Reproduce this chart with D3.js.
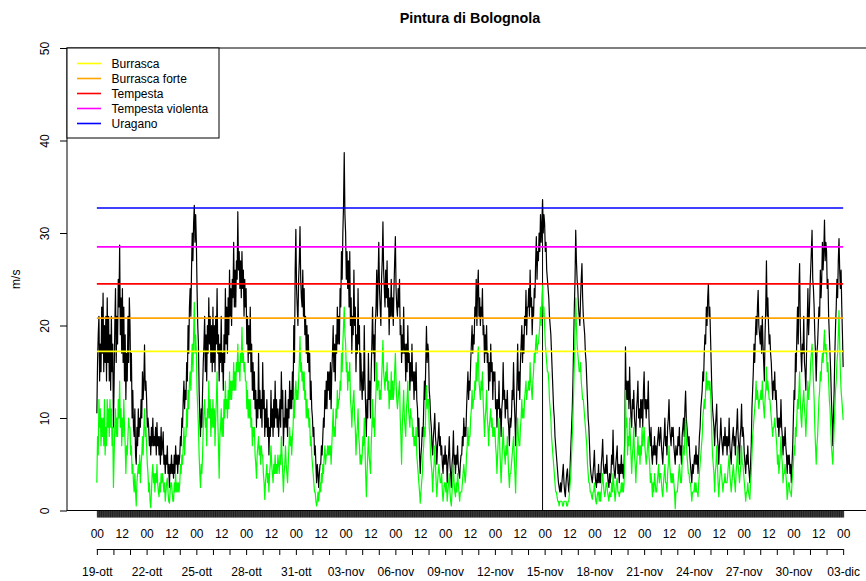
<!DOCTYPE html>
<html>
<head>
<meta charset="utf-8">
<script src="https://cdn.jsdelivr.net/npm/d3@7"></script>
<style>
  body { margin: 0; background: #fff; }
  svg { font-family: "Liberation Sans", Arial, Helvetica, sans-serif; }
</style>
</head>
<body>
<script>
// --- dati (m/s, un valore all'ora) ---
const chartTitle = "Pintura di Bolognola";
const yLabel = "m/s";
const startTime = "2020-10-19 00:00";
const stepHours = 1;

// raffica (nero) - una riga per giorno, 19-ott ... 02-dic, piu' il punto finale 03-dic 00
const gust = [
  10.5, 16, 19, 21, 14, 18, 15, 22, 17, 23.5, 15, 20, 16, 21, 14, 23, 16, 21, 14, 19, 13, 21, 15, 18,
  9, 14, 20, 24, 16, 21, 18, 25, 22, 28.7, 19, 23, 17, 24, 16, 22, 14, 19, 12, 17, 14, 21, 16, 23,
  20, 14, 17, 10, 13, 9, 8, 11, 6, 5, 9, 7, 11, 8, 10, 9, 12, 10, 15, 12, 14, 17.9, 13, 14,
  12, 9, 10, 9, 7, 8, 6, 9, 7, 10, 7, 8, 7, 9, 6, 9.5, 7, 8, 6, 8, 5, 9, 6, 7,
  8.5, 5, 6, 4, 6, 5, 7, 4, 5, 2.5, 5, 4, 6, 4, 5, 3.5, 6, 4, 7, 5, 6, 4, 6, 5,
  6, 8, 7, 10, 9, 12, 14, 11, 13, 12, 16, 14, 20, 17, 22, 24, 21, 26, 30, 27, 31, 33, 29, 32,
  29, 24, 20, 18, 13, 10, 8, 11, 9, 13, 16, 18, 21, 15, 19, 14, 20, 17, 23, 18, 21, 16, 20, 15,
  22, 16, 20, 15, 21, 18, 24, 17, 19, 14, 18, 16, 21, 15, 17, 13, 19, 16, 24, 18, 22, 17, 23, 19,
  26, 21, 24, 20, 25, 23, 29, 22, 26, 22, 27, 25, 32.3, 26, 28, 24, 27, 23, 28, 24, 26, 21, 25, 22,
  24, 18, 21, 16, 20, 17, 22, 15, 18, 13, 16, 12, 15, 11, 13, 9, 12, 10, 17, 11, 13, 10, 12, 9,
  16, 11, 13, 8, 11, 9, 12, 8, 10, 6, 9, 8, 13, 9, 11, 8, 12, 9, 14, 10, 12, 9, 11, 8,
  10, 12, 9, 15, 11, 13, 7, 10, 9, 13, 9, 11, 8, 12, 10, 14, 11, 13, 11, 15, 12, 20, 16, 26,
  30.4, 24, 22, 20, 25, 27, 30.7, 25, 23, 22, 26, 21, 24, 19, 21, 17, 20, 16, 19, 15, 17, 12, 14, 11,
  10, 8, 9, 6, 7, 5, 3, 5, 4, 2.5, 4, 5, 5, 7, 6, 8, 10, 9, 13, 11, 14, 11, 15, 13,
  15, 12, 16, 11, 15, 17, 20, 15, 18, 14, 19, 17, 22, 18, 21, 18, 24, 22, 28, 25, 30, 33, 38.7, 32,
  30, 25, 28, 24, 27, 22, 28, 20, 23, 17, 21, 19, 26, 20, 22, 15, 19, 17, 24, 18, 20, 13, 17, 14,
  12, 15, 13, 20, 14, 11, 8, 12, 10, 17, 12, 14, 10, 15, 18, 22, 17, 19, 14, 20, 22, 26, 21, 25,
  29, 24, 22, 20, 25, 27, 31.2, 26, 24, 22, 26, 23, 27, 22, 24, 19, 23, 21, 25, 21, 23, 20, 24, 27,
  29.6, 24, 22, 21, 24, 22, 25, 19, 20, 16, 19, 17, 22, 17, 18, 14, 18, 15, 20, 16, 17, 13, 16, 14,
  18, 14, 15, 12, 15, 13, 16, 12, 11, 8, 10, 6, 4, 6, 7, 9, 8, 11, 14, 12, 16, 19.9, 16, 18,
  17, 13, 12, 10, 9, 7, 6, 8, 9, 10.5, 8, 7, 5, 7, 8, 9.5, 7, 8, 6, 7, 5, 4, 6, 5,
  7, 5, 6, 3, 5, 6, 8, 5, 4, 2.5, 5, 6, 8.6, 5, 6, 4, 6, 5, 7, 5, 4, 3.5, 5, 6,
  6, 8, 7, 10, 8, 9, 8, 11, 13, 15, 12, 14, 13, 16, 18, 20, 17, 19, 18, 22, 21, 25, 20, 24,
  26, 21, 23, 20, 22, 21, 24, 19, 20, 16, 19, 17, 20, 16, 17, 13, 16, 14, 18, 15, 16, 12, 15, 14,
  15, 11, 12, 9, 12, 11, 14, 10, 11, 8, 11, 12, 16, 12, 13, 10, 12, 11, 13, 10, 9, 7, 10, 9,
  10, 13, 12, 16, 12, 10, 7, 11, 14, 18, 13, 15, 12, 16, 18, 20, 16, 19, 17, 21, 20, 23.8, 19, 22,
  22, 24, 21, 26, 22, 23, 19, 22, 21, 24, 23, 27, 29.6, 25, 28, 27, 30, 28, 32, 29, 31, 33.6, 30, 32,
  31, 28, 29, 26, 25, 24, 23, 21, 20, 19, 17, 15, 13, 11, 10, 8, 7, 6, 5, 4, 3, 2.5, 2, 3,
  2, 3, 4, 5, 3, 2, 1.5, 3, 4, 4.5, 3, 2, 3, 5, 7, 9, 11, 14, 18, 22, 25, 30.3, 27, 25,
  24, 22, 21, 20, 23, 25, 26.7, 23, 21, 20, 19, 17, 16, 14, 12, 10, 9, 7, 5, 4, 3.5, 3, 4, 5,
  6.5, 4, 3, 2.5, 4, 3, 5, 3, 4, 3, 5, 6, 7.7, 5, 4, 4, 5, 4, 6, 4, 3, 2.5, 4, 3,
  4, 6, 5, 8.7, 5, 4, 3.5, 5, 6, 7, 4, 5, 3, 5, 4, 6, 4, 5, 3.5, 5, 8, 17.7, 12, 14,
  12, 14, 11, 15.5, 12, 10, 9, 12, 11, 13, 10, 9, 8, 11, 12, 14, 10, 11, 9, 12, 10, 12, 9, 13,
  15, 11, 12, 10, 12, 11, 14, 10, 8, 7, 9, 6, 5, 7, 6, 8, 6, 7, 5, 7, 8, 9, 7, 8,
  9, 7, 6, 5, 7, 8, 10, 7, 8, 6, 9, 10, 12, 9, 8, 7, 9, 8, 9, 7, 6, 5, 7, 6,
  6, 8, 7, 9, 6, 7, 5, 8, 9, 10, 8, 11, 12.9, 10, 9, 8, 7, 8, 6, 5, 4, 3, 5, 4,
  5, 6, 5, 7, 5, 6, 4, 6, 8, 9, 11, 12, 13, 15, 14, 17, 19, 18, 22, 20, 23, 24.5, 21, 22,
  19, 16, 13, 11, 10, 9, 7, 9, 10, 11.5, 8, 7, 5, 7, 8, 10, 8, 7, 6, 8, 7, 9, 7, 8,
  6, 8, 7, 10, 7, 6, 5, 7, 8, 9, 7, 8, 6, 8, 9, 11, 8, 7, 5, 8, 9, 11.5, 8, 9,
  8, 6, 5, 4, 6, 5, 7, 5, 4, 3, 5, 7, 11, 13, 15, 18, 16, 19, 21, 19, 22, 23.8, 20, 19,
  18, 20, 17, 21, 18, 16, 14, 19, 22, 27, 21, 23, 20, 18, 19, 17, 16, 14, 12, 14, 13, 15, 12, 13,
  11, 9, 10, 8, 10, 9, 12, 9, 8, 6, 8, 7, 9, 7, 6, 4, 6, 5, 6, 4, 5, 3, 5, 7,
  10, 13, 12, 17, 15, 19, 22, 18, 24, 26.7, 20, 17, 15, 18, 17, 21, 16, 15, 13, 17, 20, 24, 19, 21,
  24, 26, 28, 30.3, 25, 24, 22, 19, 17, 14, 17, 18, 20, 22, 21, 26, 23, 25, 29, 26, 28, 31.4, 27, 29,
  28, 24, 25, 21, 19, 17, 15, 12, 10, 7, 10, 13, 17, 20, 22, 25, 23, 27, 29.4, 26, 24, 26, 22, 19,
  15.5
];

// velocita' media (verde)
const mean = [
  3, 8, 6, 12, 9, 11, 7, 10, 8, 10, 7, 12, 6, 9, 7, 12, 9, 11, 8, 12, 9, 11, 7, 9,
  2.5, 6, 9, 11, 8, 10, 8, 12, 10, 14, 9, 11, 7, 10, 8, 12, 9, 7, 4, 7, 6, 8, 10, 9,
  9, 6, 7, 4, 5, 3, 2, 4, 2, 0.5, 3, 4, 5, 4, 6, 3, 5, 6, 8, 6, 9, 11, 8, 9,
  7, 5, 4, 2, 3, 1, 0.3, 2, 4, 5, 3, 4, 2, 4, 3, 5, 3, 2, 1.5, 3, 2, 4, 3, 4,
  3, 2, 3, 1, 2, 3, 3.5, 2, 1, 0.8, 2, 3, 3, 2, 1, 1, 3, 2, 4, 2, 3, 2, 3, 2,
  3, 5, 4, 6, 5, 7, 9, 6, 8, 8, 11, 9, 13, 11, 14, 15, 13, 16, 18, 15, 19, 22.5, 17, 19,
  17, 13, 11, 9, 6, 4, 2.5, 5, 4, 6, 9, 11, 12, 9, 10, 7, 11, 10, 14, 10, 12, 8, 11, 9,
  12, 9, 11, 7, 10, 12, 15, 10, 7, 3.5, 8, 9, 11, 8, 10, 8, 12, 10, 14, 11, 12, 10, 13, 11,
  15, 12, 14, 12, 14, 13, 16, 13, 15, 13, 16, 15, 18, 15, 16, 14, 17, 16, 19.8, 16, 17, 15, 16, 14,
  14, 11, 13, 10, 12, 10, 12, 9, 10, 7, 9, 8, 9, 6, 5, 3.5, 6, 7, 8, 6, 7, 5, 7, 6,
  6, 4, 3, 1.2, 3, 4, 5, 3, 4, 2, 4, 5, 7, 5, 4, 3, 5, 4, 6, 4, 5, 4, 6, 5,
  4, 6, 5, 8, 6, 4, 2, 4, 5, 7, 5, 4, 3, 5, 7, 9, 7, 8, 6, 8, 9, 12, 10, 13,
  14, 12, 13, 12, 14, 16, 18.8, 15, 16, 14, 15, 13, 15, 12, 13, 10, 12, 10, 11, 9, 10, 7, 8, 6,
  5, 4, 3, 2, 2, 1, 0.5, 1, 2, 1, 2, 3, 2, 4, 3, 5, 4, 6, 7, 5, 6, 6, 7, 6,
  7, 6, 7, 5, 7, 9, 11, 8, 9, 8, 11, 10, 13, 11, 12, 12, 14, 13, 17, 15, 18, 20, 22, 19,
  18, 15, 16, 13, 15, 14, 16, 12, 11, 9, 11, 12, 13, 10, 9, 6, 8, 9, 11, 8, 7, 5, 6, 5,
  6, 8, 7, 10, 7, 4, 1.5, 4, 6, 8, 6, 5, 4, 7, 9, 12, 9, 10, 8, 11, 13, 16, 13, 14,
  14, 12, 13, 12, 14, 16, 18.4, 15, 14, 13, 15, 14, 16, 13, 14, 11, 13, 12, 15, 12, 14, 12, 13, 15,
  17, 14, 12, 11, 12, 13, 14, 10, 8, 5, 9, 11, 13, 10, 9, 8, 11, 12, 14, 11, 10, 9, 11, 10,
  10, 8, 9, 7, 8, 7, 9, 6, 5, 4, 3, 2, 0.8, 2, 3, 4, 6, 7, 9, 8, 11, 13.5, 11, 12,
  12, 9, 8, 6, 5, 4, 2, 4, 5, 7, 5, 3, 1.5, 3, 4, 5, 4, 3, 3, 4, 2, 1, 2, 3,
  3, 2, 3, 1, 2, 3, 4, 2, 1, 0.5, 2, 3, 5, 3, 2, 1.5, 3, 2, 4, 3, 2, 1, 2, 2,
  2, 3, 4, 5, 4, 3, 4, 6, 7, 9, 7, 8, 8, 10, 11, 13, 11, 12, 12, 14, 13, 16, 14, 16,
  17.7, 14, 13, 12, 14, 13, 15, 12, 10, 8, 10, 11, 13, 10, 9, 7, 9, 10, 11, 9, 10, 8, 9, 8,
  9, 7, 6, 4, 6, 8, 10, 7, 5, 3, 5, 7, 9, 7, 6, 5, 7, 6, 8, 6, 4, 2.5, 4, 4,
  5, 6, 7, 8, 6, 4, 1.9, 5, 8, 10, 8, 7, 7, 9, 10, 12, 10, 11, 10, 12, 13, 14, 12, 13,
  13, 14, 13, 16, 14, 13, 12, 14, 15, 17, 16, 18, 19, 17, 18, 18, 19, 20, 22, 20, 23, 24.3, 21, 22,
  20, 18, 17, 16, 15, 15, 14, 12, 11, 10, 8, 7, 6, 5, 4, 3, 2, 2, 1.5, 1, 1, 0.5, 1, 1,
  1, 1, 0.5, 0.5, 1, 1, 1, 1, 0.5, 0.5, 1, 1, 2, 3, 4, 6, 8, 10, 13, 16, 19, 23, 20, 18,
  17, 16, 15, 15, 16, 14, 13, 12, 12, 11, 10, 9, 8, 7, 5, 4, 3, 3, 2, 2, 1.5, 1.2, 2, 2,
  3, 2, 1, 0.7, 1.5, 2, 2, 1, 2, 1, 2, 3, 4, 3, 2, 1.5, 2, 3, 3, 2, 1.5, 1, 2, 1.5,
  1.5, 3, 2, 4, 3, 2, 1, 2, 3, 3.5, 2, 2, 1.5, 2, 2, 3, 2, 3, 2, 3, 6, 13, 9, 10,
  6, 8, 7, 10, 8, 6, 4, 6, 7, 9, 6, 5, 3, 5, 6, 8, 6, 7, 5, 7, 6, 9, 7, 8,
  9, 7, 6, 5, 6, 7, 8, 6, 5, 3, 4, 3, 1.5, 3, 2, 4, 3, 2, 2, 3, 4, 5, 3, 4,
  4, 3, 2, 1.5, 3, 4, 5, 3, 3, 2, 4, 5, 7, 5, 4, 3, 4, 3, 4, 3, 2, 0.2, 2, 2,
  2, 3, 4, 5, 4, 3, 3, 5, 6, 7, 6, 8, 10, 8, 6, 5, 4, 4, 3, 3, 2, 1, 2, 2,
  2, 3, 2, 3, 2, 2, 1.5, 3, 4, 5, 6, 7, 8, 10, 11, 12, 11, 13, 15, 13, 14, 14, 13, 14,
  13, 11, 8, 6, 5, 4, 2, 4, 5, 7, 5, 3, 1.5, 3, 4, 5, 4, 3, 2, 3, 3, 4, 3, 3,
  3, 4, 5, 6, 4, 3, 2, 3, 4, 5, 4, 3, 2, 4, 5, 7, 5, 4, 3, 4, 5, 7, 5, 5,
  4, 3, 2, 1, 2, 2, 3, 2, 1.5, 1.2, 3, 4, 6, 8, 9, 10, 11, 12, 14, 12, 13, 12, 11, 12,
  12, 13, 12, 14, 12, 11, 10, 12, 13, 15.5, 13, 14, 13, 12, 12, 11, 10, 9, 8, 9, 9, 10, 9, 8,
  7, 5, 6, 4, 5, 6, 8, 6, 5, 3, 4, 4, 5, 4, 3, 1.2, 2, 3, 3, 2, 2, 1.5, 3, 4,
  5, 7, 6, 9, 8, 10, 12, 11, 13, 15, 12, 10, 9, 11, 12, 13, 11, 10, 8, 10, 12, 14, 12, 13,
  14, 16, 17, 18, 16, 14, 12, 9, 7, 5, 7, 8, 10, 12, 13, 15, 14, 16, 17, 16, 18, 19.5, 17, 18,
  17, 15, 16, 14, 12, 11, 9, 7, 6, 5, 7, 9, 11, 13, 14, 16, 17, 19, 21.6, 18, 15, 13, 12, 11,
  9.8
];

// soglie Beaufort
const thresholdNames = ["Burrasca", "Burrasca forte", "Tempesta", "Tempesta violenta", "Uragano"];
const thresholdValues = [17.2, 20.8, 24.5, 28.5, 32.7];
const thresholdColors = ["#ffff00", "#ffa500", "#ff0000", "#ff00ff", "#0000ff"];

const yTicks = [0, 10, 20, 30, 40, 50];
const monthNames = ["gen", "feb", "mar", "apr", "mag", "giu", "lug", "ago", "set", "ott", "nov", "dic"];
const markTime = "2020-11-14 21:00";   // linea verticale

// --- layout ---
const W = 866, H = 581;
const plotLeft = 67, plotRight = 873, plotTop = 48, plotBottom = 510.5;

const parse = d3.utcParse("%Y-%m-%d %H:%M");
const t0 = parse(startTime);
const times = gust.map((d, i) => d3.utcHour.offset(t0, i * stepHours));
const t1 = times[times.length - 1];

// R usa xaxs="r": 4% in piu' per lato
const span = t1 - t0;
const x = d3.scaleUtc()
  .domain([new Date(+t0 - span * 0.04), new Date(+t1 + span * 0.04)])
  .range([plotLeft, plotRight]);
const y = d3.scaleLinear().domain([0, 50]).range([plotBottom, plotTop]);

const svg = d3.select("body").append("svg")
  .attr("width", W).attr("height", H);

svg.append("rect").attr("width", W).attr("height", H).attr("fill", "#fff");

// linee dati
const line = d3.line()
  .x((d, i) => x(times[i]))
  .y(d => y(d));

svg.append("path").datum(gust)
  .attr("d", line)
  .attr("fill", "none").attr("stroke", "#000")
  .attr("stroke-width", 1.2).attr("stroke-linejoin", "round");

// linea verticale (dato nullo)
const markIdx = times.findIndex(t => +t === +parse(markTime));
svg.append("line")
  .attr("x1", x(times[markIdx])).attr("x2", x(times[markIdx]))
  .attr("y1", y(0)).attr("y2", y(gust[markIdx]))
  .attr("stroke", "#000").attr("stroke-width", 1);

svg.append("path").datum(mean)
  .attr("d", line)
  .attr("fill", "none").attr("stroke", "#00ff00")
  .attr("stroke-width", 1.2).attr("stroke-linejoin", "round");

// soglie
svg.selectAll(".soglia").data(thresholdValues).enter().append("line")
  .attr("class", "soglia")
  .attr("x1", x(t0)).attr("x2", x(t1))
  .attr("y1", d => y(d)).attr("y2", d => y(d))
  .attr("stroke", (d, i) => thresholdColors[i])
  .attr("stroke-width", 1.6);

// box (il lato destro esce dalla finestra)
svg.append("rect")
  .attr("x", plotLeft).attr("y", plotTop)
  .attr("width", plotRight - plotLeft).attr("height", plotBottom - plotTop)
  .attr("fill", "none").attr("stroke", "#000").attr("stroke-width", 1);

// asse y
const yAxis = svg.append("g")
  .attr("transform", `translate(${plotLeft},0)`)
  .call(d3.axisLeft(y).tickValues(yTicks).tickSize(7).tickSizeOuter(0));
yAxis.select(".domain").remove();
yAxis.selectAll("line").attr("stroke", "#000");
yAxis.selectAll("text")
  .attr("transform", "rotate(-90)")
  .attr("x", 0).attr("y", -22).attr("dy", "0.35em")
  .attr("text-anchor", "middle")
  .attr("font-size", 12).attr("fill", "#000")
  .style("font-family", "Liberation Sans, Arial, sans-serif");

svg.append("text")
  .attr("transform", `translate(16,${(plotTop + plotBottom) / 2}) rotate(-90)`)
  .attr("text-anchor", "middle").attr("dy", "0.35em")
  .attr("font-size", 12)
  .text(yLabel);

// asse x: tacche orarie, etichette 00/12 ogni 36 ore
const hours = d3.utcHour.range(t0, d3.utcHour.offset(t1, 1));
const hourAxis = svg.append("g")
  .attr("transform", `translate(0,${plotBottom})`)
  .call(d3.axisBottom(x).tickValues(hours).tickSize(7).tickPadding(12)
    .tickFormat((d, i) => i % 36 === 0 ? d3.utcFormat("%H")(d) : ""));
hourAxis.select(".domain").remove();
hourAxis.selectAll("line").attr("stroke", "#000").attr("stroke-width", 0.8);
hourAxis.selectAll("text").attr("font-size", 12).attr("fill", "#000")
  .style("font-family", "Liberation Sans, Arial, sans-serif");

// asse x: giorni, etichette ogni 3 giorni
const days = d3.utcDay.range(t0, d3.utcDay.offset(t1, 1));
const dayAxisY = 549;
const dayAxis = svg.append("g")
  .attr("transform", `translate(0,${dayAxisY})`)
  .call(d3.axisBottom(x).tickValues(days).tickSize(6).tickPadding(12)
    .tickFormat((d, i) => i % 3 === 0 ? d3.utcFormat("%d")(d) + "-" + monthNames[d.getUTCMonth()] : ""));
dayAxis.select(".domain").remove();
dayAxis.selectAll("line").attr("stroke", "#000");
dayAxis.selectAll("text").attr("font-size", 12).attr("fill", "#000")
  .style("font-family", "Liberation Sans, Arial, sans-serif");
dayAxis.append("line")
  .attr("x1", x(t0)).attr("x2", x(t1)).attr("y1", 0.5).attr("y2", 0.5)
  .attr("stroke", "#000");

// titolo
svg.append("text")
  .attr("x", (plotLeft + plotRight) / 2).attr("y", 18)
  .attr("text-anchor", "middle").attr("dy", "0.35em")
  .attr("font-size", 14.4).attr("font-weight", "bold")
  .text(chartTitle);

// legenda
const legend = svg.append("g");
legend.append("rect")
  .attr("x", plotLeft).attr("y", plotTop)
  .attr("width", 152).attr("height", 90)
  .attr("fill", "#fff").attr("stroke", "#000");
const items = legend.selectAll(".item").data(thresholdNames).enter().append("g")
  .attr("transform", (d, i) => `translate(0,${63.5 + i * 15})`);
items.append("line")
  .attr("x1", 77).attr("x2", 101).attr("y1", 0).attr("y2", 0)
  .attr("stroke", (d, i) => thresholdColors[i]).attr("stroke-width", 1.6);
items.append("text")
  .attr("x", 111.5).attr("dy", "0.35em")
  .attr("font-size", 12)
  .text(d => d);
</script>
</body>
</html>
